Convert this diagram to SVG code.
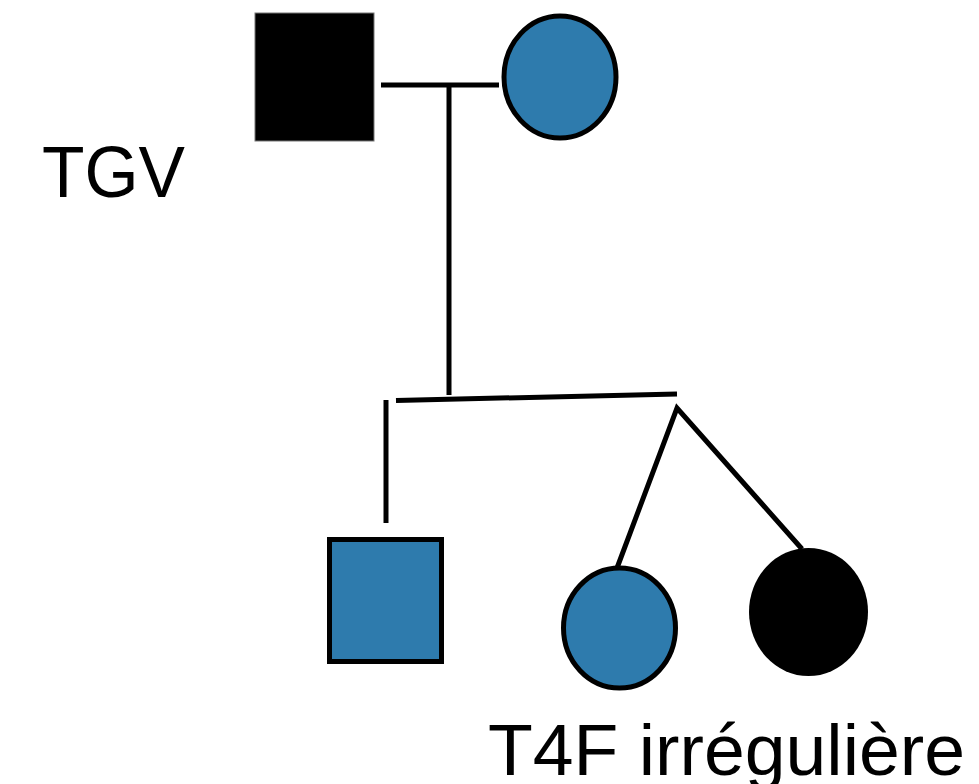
<svg xmlns="http://www.w3.org/2000/svg" width="979" height="784" viewBox="0 0 979 784">
<style>
.ln{stroke:#000;stroke-width:5;fill:none;stroke-linecap:butt}
.blue{fill:#2E7BAD;stroke:#000;stroke-width:5}
.blk{fill:#000}
.lbl{font-family:"Liberation Sans",Arial,sans-serif;font-size:73px;fill:#000}
</style>
<rect width="979" height="784" fill="#fff"/>
<g id="connectors">
<line class="ln" x1="381" y1="85" x2="499" y2="85"/>
<line class="ln" x1="449" y1="85" x2="449" y2="395"/>
<line class="ln" x1="396" y1="400.5" x2="677" y2="394"/>
<line class="ln" x1="386" y1="400" x2="386" y2="523"/>
<polyline class="ln" points="617,568 677,408 802,549" stroke-linejoin="miter"/>
</g>
<g id="father"><rect class="blk" x="255" y="13" width="119" height="128" stroke="#777" stroke-width="1"/></g>
<g id="mother"><ellipse class="blue" cx="560" cy="77" rx="56" ry="61"/></g>
<g id="son"><rect class="blue" x="329.5" y="539.5" width="112" height="122"/></g>
<g id="twin1"><ellipse class="blue" cx="619.5" cy="628" rx="56" ry="60"/></g>
<g id="twin2"><ellipse class="blk" cx="808.5" cy="612" rx="59.5" ry="64"/></g>
<g id="labels">
<text class="lbl" x="42" y="197" textLength="143" lengthAdjust="spacingAndGlyphs">TGV</text>
<text class="lbl" x="488" y="775" textLength="477" lengthAdjust="spacingAndGlyphs">T4F irrégulière</text>
</g>
</svg>
